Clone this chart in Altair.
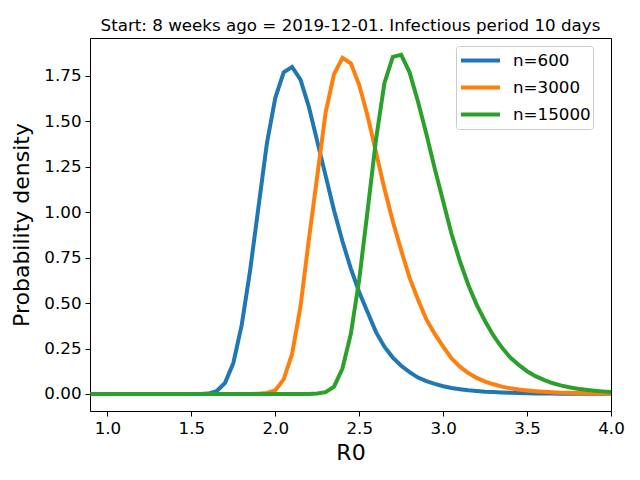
import altair as alt
import pandas as pd

r0 = [round(0.90 + 0.05 * i, 2) for i in range(63)]

n600 = [0.0] * 14 + [
    0.002, 0.015, 0.06, 0.17, 0.38, 0.68, 1.03, 1.38, 1.63, 1.77,
    1.80, 1.73, 1.58, 1.39, 1.20, 1.01, 0.84, 0.69, 0.56, 0.45,
    0.34, 0.26, 0.20, 0.155, 0.12, 0.09, 0.07, 0.055, 0.042, 0.033,
    0.026, 0.02, 0.016, 0.012, 0.01, 0.008, 0.006, 0.005, 0.004, 0.003,
    0.0025, 0.002, 0.0015, 0.0012, 0.001, 0.001, 0.0008, 0.0006, 0.0005,
]

n3000 = [0.0] * 20 + [
    0.001, 0.005, 0.02, 0.08, 0.22, 0.48, 0.85, 1.20, 1.55, 1.76,
    1.85, 1.82, 1.70, 1.53, 1.33, 1.13, 0.95, 0.79, 0.64, 0.52,
    0.41, 0.33, 0.26, 0.195, 0.15, 0.115, 0.088, 0.068, 0.053, 0.04,
    0.031, 0.024, 0.019, 0.015, 0.012, 0.009, 0.007, 0.006, 0.005, 0.004,
    0.003, 0.003, 0.002,
]

n15000 = [0.0] * 27 + [
    0.002, 0.01, 0.04, 0.14, 0.33, 0.63, 1.01, 1.40, 1.71, 1.855,
    1.866, 1.77, 1.61, 1.43, 1.24, 1.06, 0.88, 0.73, 0.60, 0.49,
    0.40, 0.32, 0.255, 0.20, 0.16, 0.125, 0.098, 0.077, 0.06, 0.047,
    0.037, 0.029, 0.023, 0.018, 0.014, 0.011,
]

labels = ["n=600", "n=3000", "n=15000"]
colors = ["#1f77b4", "#ff7f0e", "#2ca02c"]

rows = []
for lab, ys in zip(labels, [n600, n3000, n15000]):
    for x, y in zip(r0, ys):
        rows.append({"R0": x, "density": y, "series": lab})
df = pd.DataFrame(rows)

x_ticks = [1.0, 1.5, 2.0, 2.5, 3.0, 3.5, 4.0]
y_ticks = [0.0, 0.25, 0.5, 0.75, 1.0, 1.25, 1.5, 1.75]

FONT = "DejaVu Sans"

chart = (
    alt.Chart(df)
    .mark_line(strokeWidth=4, clip=True)
    .encode(
        x=alt.X(
            "R0:Q",
            scale=alt.Scale(domain=[0.896, 4.0], nice=False, zero=False),
            axis=alt.Axis(
                values=x_ticks, format=".1f", title="R0", grid=False,
                domain=False, tickColor="black", tickSize=5, tickWidth=1,
                labelPadding=4, labelFontSize=16.7, labelFont=FONT,
                labelColor="black", titleFont=FONT, titleFontSize=22,
                titleFontWeight="normal", titleColor="black", titlePadding=6,
                labelFlush=False, labelOverlap=False,
            ),
        ),
        y=alt.Y(
            "density:Q",
            scale=alt.Scale(domain=[-0.094, 1.959], nice=False, zero=False),
            axis=alt.Axis(
                values=y_ticks, format=".2f", title="Probability density",
                grid=False, domain=False, tickColor="black", tickSize=5,
                tickWidth=1, labelPadding=4, labelFontSize=16.7,
                labelFont=FONT, labelColor="black", titleFont=FONT,
                titleFontSize=22, titleFontWeight="normal",
                titleColor="black", titlePadding=10,
                labelFlush=False, labelOverlap=False,
            ),
        ),
        color=alt.Color(
            "series:N",
            sort=labels,
            scale=alt.Scale(domain=labels, range=colors),
            legend=alt.Legend(
                title=None, orient="none", legendX=366, legendY=8,
                symbolType="stroke", symbolStrokeWidth=4, symbolSize=1521,
                clipHeight=25, symbolOffset=1,
                labelFontSize=16.7, labelFont=FONT, labelColor="black",
                fillColor="white", strokeColor="#cccccc", cornerRadius=3,
                padding=2, rowPadding=2, labelOffset=11,
            ),
        ),
    )
    .properties(
        width=521,
        height=373,
        title=alt.TitleParams(
            "Start: 8 weeks ago = 2019-12-01. Infectious period 10 days",
            font=FONT, fontSize=16.7, fontWeight="normal", color="black",
            anchor="middle", baseline="alphabetic", offset=-10, frame="group",
        ),
        autosize=alt.AutoSizeParams(type="none"),
        padding={"left": 82, "top": 30, "right": 20, "bottom": 62},
    )
    .configure_view(stroke="black", strokeWidth=1)
)

chart.save("out.html", embed_options={"renderer": "svg", "actions": False})
